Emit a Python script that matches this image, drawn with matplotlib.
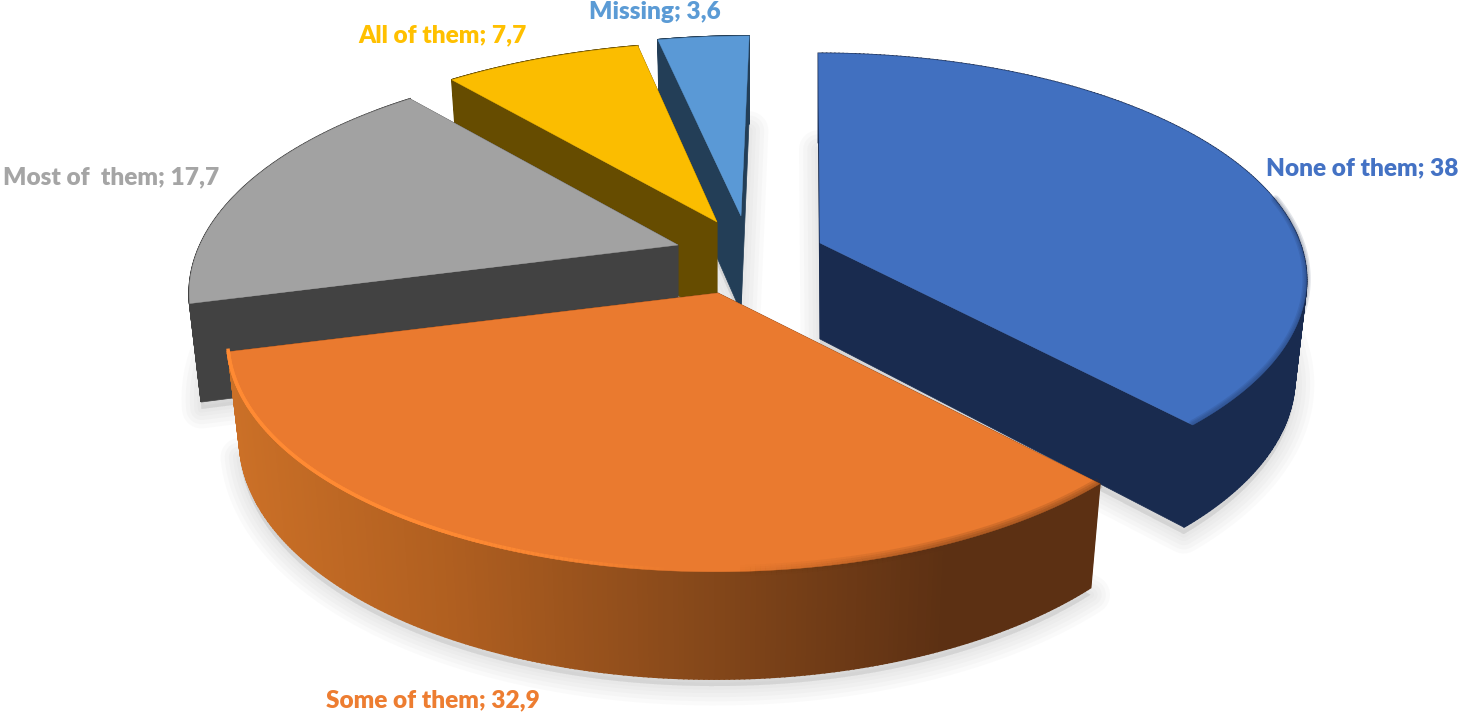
import numpy as np
import matplotlib
matplotlib.use("Agg")
import matplotlib.pyplot as plt
from matplotlib.colors import to_rgb

# data
categories = ["None of them", "Some of them", "Most of  them", "All of them", "Missing"]
values = [38, 32.9, 17.7, 7.7, 3.6]

# colours
top_colors = ["#4170c0", "#ea7a2f", "#a2a2a2", "#fbbd00", "#5a99d6"]
side_colors = ["#192b4f", "#5c3013", "#424242", "#664c00", "#233e57"]
label_colors = ["#4472c4", "#ed7d31", "#a5a5a5", "#ffc000", "#5b9bd5"]

# layout (pixels) : where each exploded slice has its tip, and where labels go
apex_x = [820, 718, 678, 717, 741]
apex_y = [243, 293, 245, 222, 216]
label_x = [1362, 433, 111, 442, 655]
label_y = [168, 700, 177, 35, 12]
rad_x = [480, 480, 478, 485, 485]
rad_y = [220, 223, 222, 216, 216]
vanish_x = [808, 730, 700, 790, 790]
persp = [0.16, 0.2, 0.2, 0.2, 0.2]

plt.rcParams["font.family"] = ["Lato", "DejaVu Sans"]
fig = plt.figure(figsize=(14.61, 7.12), dpi=100)
ax = fig.add_axes([0, 0, 1, 1])
ax.set_xlim(0, 1461)
ax.set_ylim(712, 0)
ax.axis("off")


def project(ang, r, i, low=False):
    # angle in degrees clockwise from 12 o'clock, r = 0 at the tip and 1 at the rim
    a = np.radians(ang)
    s, c = np.sin(a), np.cos(a)
    w = 1 + persp[i] * c * r
    x = vanish_x[i] + (apex_x[i] - vanish_x[i] + rad_x[i] * r * s) / w
    y = apex_y[i] - rad_y[i] * r * c / w
    if low:
        x = apex_x[i] + (x - apex_x[i]) * 0.976
        y = y + 96 / np.sqrt(w)
    return x, y


def orange_side(x):
    stops = [230, 450, 700, 950]
    cols = np.array([to_rgb("#cb7027"), to_rgb("#b05f20"), to_rgb("#86481a"), to_rgb("#5c3013")])
    return [np.interp(x, stops, cols[:, k]) for k in range(3)]


total = sum(values)
edges = np.concatenate([[0], np.cumsum(values)]) / total * 360

# soft shadows under everything
for i in range(len(values)):
    th = np.linspace(edges[i], edges[i + 1], 80)
    x, y = project(th, 1, i, low=True)
    x0, y0 = project(0, 0, i, low=True)
    px = np.concatenate([[x0], x])
    py = np.concatenate([[y0], y]) + 7
    for lw in [28, 22, 16, 10, 5]:
        ax.fill(px, py, facecolor="#808080", edgecolor="#808080", alpha=0.035, lw=lw, zorder=1, joinstyle="round")

order = [4, 3, 2, 0, 1]
for n, i in enumerate(order):
    z = 2 + n
    th = np.linspace(edges[i], edges[i + 1], 240)
    xt, yt = project(th, 1, i)
    xb, yb = project(th, 1, i, low=True)
    x0, y0 = project(0, 0, i)
    x1, y1 = project(0, 0, i, low=True)

    # two cut faces
    for j in [0, -1]:
        ax.fill([x0, xt[j], xb[j], x1], [y0, yt[j], yb[j], y1], color=side_colors[i], lw=0.5, zorder=z)

    # outer wall, strip by strip so the orange one can fade
    for k in range(len(th) - 1):
        col = orange_side(xt[k]) if i == 1 else side_colors[i]
        ax.fill([xt[k], xt[k + 1], xb[k + 1], xb[k]], [yt[k], yt[k + 1], yb[k + 1], yb[k]],
                color=col, lw=1.2, zorder=z)

    # top of the slice
    ax.fill(np.concatenate([[x0], xt]), np.concatenate([[y0], yt]), color=top_colors[i], lw=0.3, zorder=z + 0.2)

    # bevel along the rim
    if i == 0:
        front = th > 78
        for lw in [2, 4, 6]:
            ax.plot(xt[front], yt[front] - 1, color="#192b4f", lw=lw, alpha=0.12, zorder=z + 0.3,
                    solid_capstyle="round")
    if i == 1:
        for k in range(len(th) - 1):
            light = np.interp(xt[k], [420, 680], [1, 0])
            dark = np.interp(xt[k], [740, 960], [0, 0.16])
            if light > 0:
                ax.plot(xt[k:k + 2], yt[k:k + 2] - 1.5, color="#ff8a33", lw=2.5, alpha=light, zorder=z + 0.3)
            if dark > 0:
                for lw in [2, 5, 8]:
                    ax.plot(xt[k:k + 2], yt[k:k + 2] - 1, color="#5c3013", lw=lw, alpha=dark,
                            zorder=z + 0.3, solid_capstyle="butt")

for i, name in enumerate(categories):
    txt = f"{name}; {values[i]}".replace(".", ",")
    ax.text(label_x[i], label_y[i], txt, color=label_colors[i], fontsize=17.6, fontweight="heavy",
            ha="center", va="center", zorder=20)

fig.savefig("out.png", dpi=100)
